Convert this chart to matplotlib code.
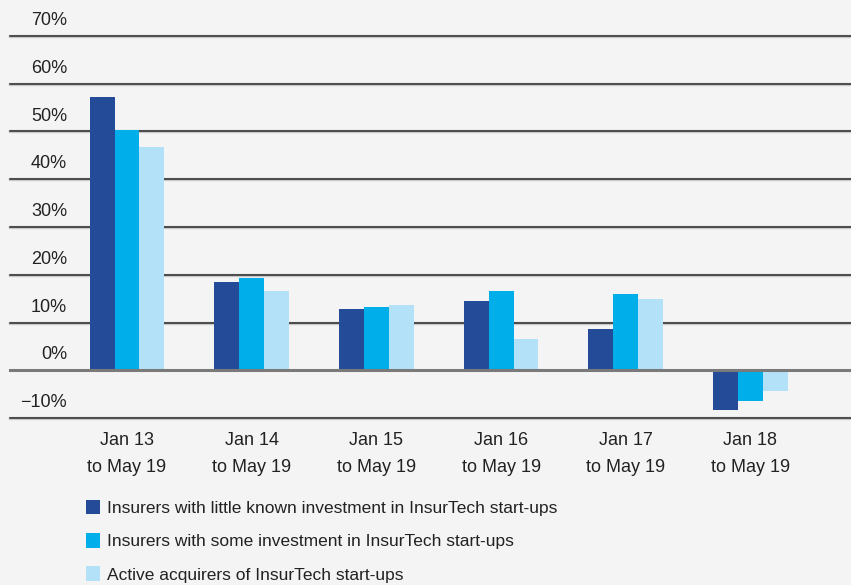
import matplotlib.pyplot as plt
import numpy as np
from matplotlib.patches import Patch

# periods on the x axis
periods = ["Jan 13\nto May 19", "Jan 14\nto May 19", "Jan 15\nto May 19",
           "Jan 16\nto May 19", "Jan 17\nto May 19", "Jan 18\nto May 19"]

# percent change per group of insurers
little_known = [57.2, 18.4, 12.8, 14.5, 8.6, -8.4]
some_invest = [50.3, 19.3, 13.2, 16.6, 15.9, -6.5]
active_acq = [46.8, 16.6, 13.6, 6.5, 14.9, -4.4]

series_names = ["Insurers with little known investment in InsurTech start-ups",
                "Insurers with some investment in InsurTech start-ups",
                "Active acquirers of InsurTech start-ups"]
colors = ["#234b98", "#00aeea", "#b3e1f8"]

y_ticks = [-10, 0, 10, 20, 30, 40, 50, 60, 70]
bg = "#f4f4f4"

plt.rcParams['font.family'] = ['Liberation Sans', 'DejaVu Sans']

fig = plt.figure(figsize=(8.51, 5.85), dpi=100, facecolor=bg)
ax = fig.add_axes([10 / 851, 167 / 585, 841 / 851, 382 / 585], facecolor=bg)

x = np.arange(len(periods))
w = 0.2
for i, vals in enumerate([little_known, some_invest, active_acq]):
    ax.bar(x + (i - 1) * w, vals, width=w, color=colors[i], zorder=3)

# horizontal rules
for t in y_ticks:
    if t == 0:
        ax.axhline(t, color="#7a7a7a", lw=2.2, zorder=4, clip_on=False)
    else:
        ax.axhline(t, color="#c8c8c8", lw=2.4, zorder=1, clip_on=False)
        ax.axhline(t, color="#2a2a2a", lw=1.1, zorder=2, clip_on=False)
    lab = "\u2212" + str(abs(t)) + "%" if t < 0 else str(t) + "%"
    ax.annotate(lab, xy=(57 / 841, t), xycoords=("axes fraction", "data"),
                xytext=(0, 5), textcoords="offset points",
                ha="right", va="bottom", fontsize=13, color="#222222")

ax.set_xlim(-0.938, 5.806)
ax.set_ylim(-10, 70)
ax.set_xticks([])
ax.set_yticks([])
for s in ax.spines.values():
    s.set_visible(False)

for xi, p in zip(x, periods):
    ax.annotate(p, xy=(xi, -10), xycoords="data", xytext=(0, -10),
                textcoords="offset points", ha="center", va="top",
                fontsize=13, color="#222222", linespacing=1.75,
                annotation_clip=False)

handles = [Patch(facecolor=c, edgecolor="none") for c in colors]
fig.legend(handles, series_names, loc="upper left", bbox_to_anchor=(86 / 851, 1 - 500 / 585),
           frameon=False, fontsize=12.5, handlelength=0.8, handleheight=0.9,
           handletextpad=0.4, labelspacing=0.98, borderaxespad=0, borderpad=0,
           labelcolor="#222222")

fig.savefig("out.png", dpi=100, facecolor=bg)
